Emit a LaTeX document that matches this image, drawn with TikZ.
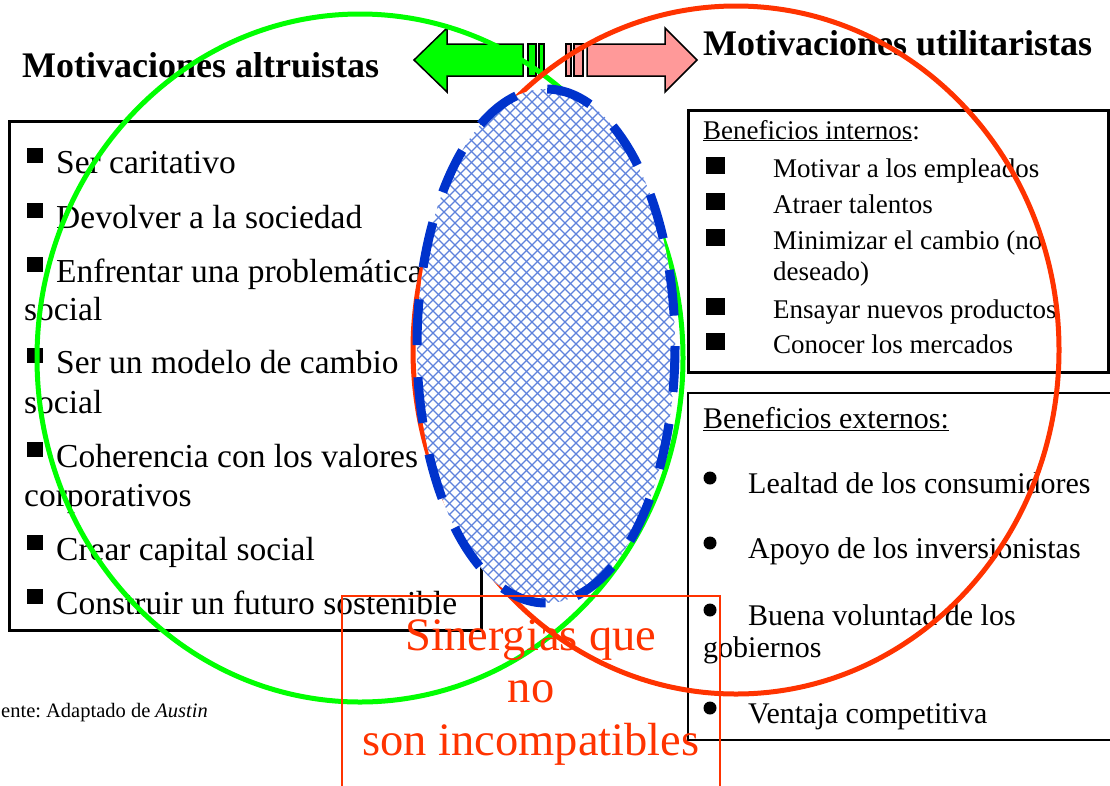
\documentclass[tikz,border=0pt]{standalone}
\usepackage{fontspec}
\setmainfont{Liberation Serif}
\frenchspacing
\definecolor{vennred}{RGB}{255,51,0}
\definecolor{venngreen}{RGB}{0,255,0}
\definecolor{arrowpink}{RGB}{255,153,153}
\definecolor{hatchblue}{RGB}{95,130,220}
\definecolor{dashblue}{RGB}{0,51,204}

\begin{document}
\begin{tikzpicture}[x=1pt, y=-1pt,
    titulo/.style={font=\fontsize{36}{40}\selectfont\bfseries, anchor=base west, inner sep=0pt},
    altitem/.style={font=\fontsize{33.5}{39}\selectfont, anchor=base west, inner sep=0pt},
    intitem/.style={font=\fontsize{27}{31}\selectfont, anchor=base west, inner sep=0pt},
    extitem/.style={font=\fontsize{30}{33}\selectfont, anchor=base west, inner sep=0pt},
    sinergia/.style={font=\fontsize{46.5}{52}\selectfont, text=vennred, anchor=base, inner sep=0pt},
    hatch/.style={hatchblue, line width=1.1pt},
    flecha/.style={draw=black, line width=1.5pt, line join=miter}]
    \useasboundingbox (0,0) rectangle (1110,785);

    \node (tituloalt) at (22,77) [titulo] {Motivaciones altruistas};
    \node (tituloutil) at (703,55) [titulo] {Motivaciones utilitaristas};

    \draw [line width=3pt] (9,121) rectangle (481,630);
    \foreach \b in {173,228,282,373,467,560,614}
        \fill (27,\b-25) rectangle ++(16,15);
    \node (alt1) at (56,173) [altitem] {Ser caritativo};
    \node (alt2) at (56,228) [altitem] {Devolver a la sociedad};
    \node (alt3) at (56,282) [altitem] {Enfrentar una problemática};
    \node (alt3b) at (24,320) [altitem] {social};
    \node (alt4) at (56,373) [altitem] {Ser un modelo de cambio};
    \node (alt4b) at (24,413) [altitem] {social};
    \node (alt5) at (56,467) [altitem] {Coherencia con los valores};
    \node (alt5b) at (24,506) [altitem] {corporativos};
    \node (alt6) at (56,560) [altitem] {Crear capital social};
    \node (alt7) at (56,614) [altitem] {Construir un futuro sostenible};

    \draw [line width=3pt] (688,110) rectangle (1108,372);
    \node (internos) at (703,139) [intitem] {\underline{Beneficios internos}:};
    \foreach \b in {177,213,249,318,353}
        \fill (706,\b-20) rectangle ++(19,17);
    \node (int1) at (773,177) [intitem] {Motivar a los empleados};
    \node (int2) at (773,213) [intitem] {Atraer talentos};
    \node (int3) at (773,249) [intitem] {Minimizar el cambio (no};
    \node (int3b) at (773,280) [intitem] {deseado)};
    \node (int4) at (773,318) [intitem] {Ensayar nuevos productos};
    \node (int5) at (773,353) [intitem] {Conocer los mercados};

    \draw [line width=2pt] (688,393) rectangle (1114,740);
    \node (externos) at (703,428) [extitem] {\underline{Beneficios externos:}};
    \foreach \b in {493,558,625,723}
        \fill (710,\b-15) circle (6.5);
    \node (ext1) at (748,493) [extitem] {Lealtad de los consumidores};
    \node (ext2) at (748,558) [extitem] {Apoyo de los inversionistas};
    \node (ext3) at (748,625) [extitem] {Buena voluntad de los};
    \node (ext3b) at (703,657) [extitem] {gobiernos};
    \node (ext4) at (748,723) [extitem] {Ventaja competitiva};

    \draw [flecha, fill=venngreen] (414,60) -- (447,28) -- (447,44) -- (523,44)
        -- (523,76) -- (447,76) -- (447,92) -- cycle;
    \draw [flecha, fill=venngreen] (528,44) rectangle (536,76);
    \draw [flecha, fill=venngreen] (539,44) rectangle (544,76);
    \draw [flecha, fill=arrowpink] (697,60) -- (665,28) -- (665,44) -- (587,44)
        -- (587,76) -- (665,76) -- (665,92) -- cycle;
    \draw [flecha, fill=arrowpink] (574,44) rectangle (583,76);
    \draw [flecha, fill=arrowpink] (566,44) rectangle (571,76);

    \draw [venngreen, line width=5pt] (360,358) ellipse (323 and 344);
    \draw [vennred, line width=5pt] (736,350) ellipse (323 and 344);

    \begin{scope}
        \clip (546,346) ellipse (129 and 257);
        \fill [white] (400,80) rectangle (700,620);
        \foreach \c in {-150,-139,...,1250} {
            \draw [hatch] (\c,80) -- ++(540,540);
            \draw [hatch] (\c,80) -- ++(-540,540);
        }
    \end{scope}
    \draw [dashblue, line width=9pt, dash pattern=on 46pt off 32pt] (546,346) ellipse (129 and 257);

    \draw [vennred, line width=1.5pt] (342,790) -- (342,596) -- (720,596) -- (720,790);
    \node (sin1) at (531,650) [sinergia] {Sinergias que};
    \node (sin2) at (531,702) [sinergia] {no};
    \node (sin3) at (531,755) [sinergia] {son incompatibles};

    \node (fuente) at (1,717) [anchor=base west, inner sep=0pt, font=\fontsize{20.5}{24}\selectfont] {ente: Adaptado de \textit{Austin}};
\end{tikzpicture}
\end{document}
